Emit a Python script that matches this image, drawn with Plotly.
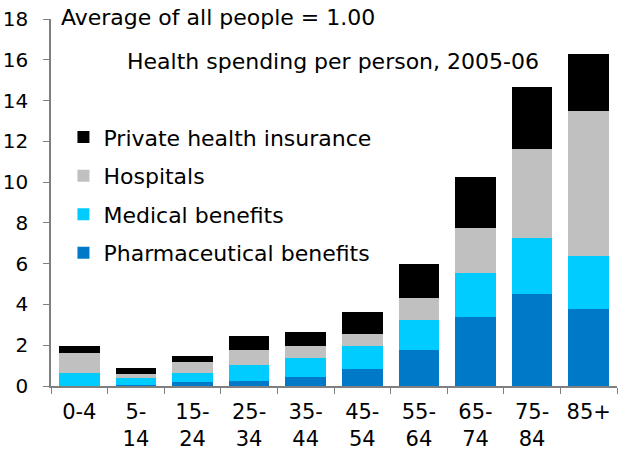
import plotly.graph_objects as go

# Age groups (two-line tick labels)
age_groups = ["0-4", "5-<br>14", "15-<br>24", "25-<br>34", "35-<br>44",
              "45-<br>54", "55-<br>64", "65-<br>74", "75-<br>84", "85+"]

# Health spending per person relative to the average person (= 1.00), by component
pharmaceutical = [0.02, 0.03, 0.20, 0.25, 0.43, 0.82, 1.76, 3.38, 4.51, 3.77]
medical = [0.60, 0.36, 0.42, 0.77, 0.93, 1.13, 1.47, 2.17, 2.76, 2.61]
hospitals = [0.99, 0.19, 0.55, 0.74, 0.59, 0.59, 1.09, 2.21, 4.33, 7.09]
private_insurance = [0.34, 0.29, 0.29, 0.69, 0.69, 1.09, 1.67, 2.51, 3.05, 2.80]

# Stacked bottom to top; legend lists them top to bottom
series = [
    ("Pharmaceutical benefits", pharmaceutical, "#0079C8"),
    ("Medical benefits", medical, "#00CCFF"),
    ("Hospitals", hospitals, "#C0C0C0"),
    ("Private health insurance", private_insurance, "#000000"),
]

FONT = "DejaVu Sans"
AXIS_GREY = "#7F7F7F"

fig = go.Figure()
for i, (name, values, color) in enumerate(series):
    fig.add_trace(go.Bar(
        x=age_groups, y=values, name=name, legendgroup=name,
        legendrank=1000 - i,
        marker=dict(color=color, line=dict(width=0)),
    ))

fig.update_layout(
    barmode="stack",
    bargap=0.28,
    width=618, height=455,
    margin=dict(l=51, r=1, t=19, b=69),
    paper_bgcolor="white", plot_bgcolor="white",
    font=dict(family=FONT, size=20, color="#000000"),
    showlegend=True,
    legend=dict(
        traceorder="grouped", x=0.022, y=0.735, xanchor="left", yanchor="top",
        bgcolor="rgba(0,0,0,0)", font=dict(family=FONT, size=22),
        tracegroupgap=7, itemsizing="constant",
    ),
    xaxis=dict(
        showline=True, linecolor=AXIS_GREY, linewidth=1.5,
        ticks="outside", tickson="boundaries", ticklen=6, tickcolor=AXIS_GREY,
        tickfont=dict(family=FONT, size=21), ticklabelstandoff=6, showgrid=False,
    ),
    yaxis=dict(
        range=[0, 18], dtick=2, showline=True, linecolor=AXIS_GREY, linewidth=1.5,
        ticks="outside", ticklen=6, tickcolor=AXIS_GREY, showgrid=False,
        zeroline=False, tickfont=dict(family=FONT, size=20), ticklabelstandoff=11,
    ),
    annotations=[
        dict(text="Average of all people = 1.00", xref="paper", yref="paper",
             x=0.014, y=1.005, xanchor="left", yanchor="middle", showarrow=False,
             font=dict(family=FONT, size=22)),
        dict(text="Health spending per person, 2005-06", xref="paper", yref="paper",
             x=0.498, y=0.883, xanchor="center", yanchor="middle", showarrow=False,
             font=dict(family=FONT, size=22)),
    ],
)

fig.write_html("out.html")
